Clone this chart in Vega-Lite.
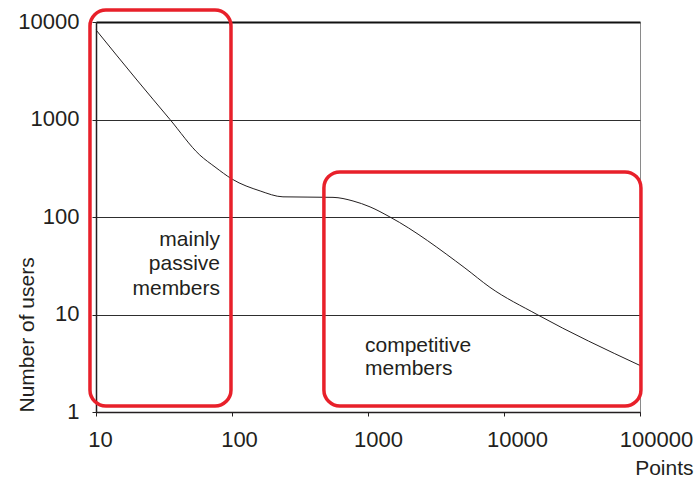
{
  "$schema": "https://vega.github.io/schema/vega-lite/v6.json",
  "autosize": "none",
  "padding": {"left": 96, "top": 22, "right": 58, "bottom": 68},
  "width": 544,
  "height": 390,
  "background": "white",
  "config": {
    "font": "Liberation Sans",
    "view": {"stroke": "#8a8a8a", "strokeWidth": 1}
  },
  "datasets": {
    "curve": [
      {"points": 10, "users": 8300},
      {"points": 20, "users": 2540},
      {"points": 35, "users": 1000},
      {"points": 58, "users": 432},
      {"points": 75, "users": 326},
      {"points": 100, "users": 245},
      {"points": 161, "users": 185},
      {"points": 237, "users": 161},
      {"points": 553, "users": 159},
      {"points": 776, "users": 146},
      {"points": 1035, "users": 127},
      {"points": 1450, "users": 100},
      {"points": 5160, "users": 30},
      {"points": 7880, "users": 19},
      {"points": 17500, "users": 10},
      {"points": 100000, "users": 3}
    ],
    "boxes": [
      {"x1": 9.03, "x2": 98.3, "y1": 13280, "y2": 1.154},
      {"x1": 474, "x2": 101600, "y1": 290, "y2": 1.154}
    ],
    "labels": [
      {"px": 81.6, "py": 50.5, "label": ["mainly", "passive", "members"], "side": "right"},
      {"px": 950, "py": 4.15, "label": ["competitive", "members"], "side": "left"}
    ]
  },
  "layer": [
    {
      "data": {"name": "curve"},
      "mark": {"type": "line", "color": "#231f20", "strokeWidth": 1, "interpolate": "monotone"},
      "encoding": {
        "x": {
          "field": "points", "type": "quantitative",
          "scale": {"type": "log", "domain": [10, 100000], "nice": false},
          "axis": {
            "values": [10, 100, 1000, 10000, 100000],
            "format": "d",
            "grid": false,
            "domainColor": "#231f20", "domainWidth": 1.5,
            "tickColor": "#231f20", "tickSize": 4, "tickWidth": 1,
            "labelFontSize": 22, "labelColor": "#231f20",
            "labelBaseline": "alphabetic", "labelPadding": 30,
            "labelOffset": {"condition": [
              {"test": "datum.value == 10", "value": 4},
              {"test": "datum.value == 100", "value": 7},
              {"test": "datum.value == 1000", "value": 10},
              {"test": "datum.value == 10000", "value": 13}
            ], "value": 16},
            "labelFlush": false,
            "labelOverlap": false,
            "title": "Points",
            "titleFontSize": 21, "titleFontWeight": "normal", "titleColor": "#231f20",
            "titleX": 597, "titleY": 62, "titleAlign": "right", "titleBaseline": "alphabetic", "titleAnchor": "end"
          }
        },
        "y": {
          "field": "users", "type": "quantitative",
          "scale": {"type": "log", "domain": [1, 10000], "nice": false},
          "axis": {
            "values": [1, 10, 100, 1000, 10000],
            "format": "d",
            "grid": true,
            "gridColor": {"condition": {"test": "datum.value == 10000", "value": "#111111"}, "value": "#2e2e2e"},
            "gridWidth": {"condition": {"test": "datum.value == 10000", "value": 2}, "value": 1},
            "domainColor": "#231f20", "domainWidth": 1.5,
            "tickColor": "#231f20", "tickSize": 4, "tickWidth": 1,
            "labelFontSize": 22, "labelColor": "#231f20",
            "labelBaseline": "middle", "labelPadding": 13, "labelOffset": -1,
            "labelFlush": false,
            "labelOverlap": false,
            "title": "Number of users",
            "titleFontSize": 21, "titleFontWeight": "normal", "titleColor": "#231f20",
            "titleAngle": 270, "titleX": -63, "titleY": 390, "titleAlign": "left", "titleBaseline": "alphabetic"
          }
        }
      }
    },
    {
      "data": {"name": "boxes"},
      "mark": {"type": "rect", "filled": false, "stroke": "#e8202a", "strokeWidth": 3.5, "cornerRadius": 16, "clip": false},
      "encoding": {
        "x": {"field": "x1", "type": "quantitative"},
        "x2": {"field": "x2"},
        "y": {"field": "y1", "type": "quantitative"},
        "y2": {"field": "y2"}
      }
    },
    {
      "data": {"name": "labels"},
      "transform": [{"filter": "datum.side == 'right'"}],
      "mark": {"type": "text", "align": "right", "baseline": "alphabetic", "fontSize": 21, "lineHeight": 24.5, "color": "#231f20"},
      "encoding": {
        "x": {"field": "px", "type": "quantitative"},
        "y": {"field": "py", "type": "quantitative"},
        "text": {"field": "label"}
      }
    },
    {
      "data": {"name": "labels"},
      "transform": [{"filter": "datum.side == 'left'"}],
      "mark": {"type": "text", "align": "left", "baseline": "alphabetic", "fontSize": 21, "lineHeight": 23.5, "color": "#231f20"},
      "encoding": {
        "x": {"field": "px", "type": "quantitative"},
        "y": {"field": "py", "type": "quantitative"},
        "text": {"field": "label"}
      }
    }
  ]
}
